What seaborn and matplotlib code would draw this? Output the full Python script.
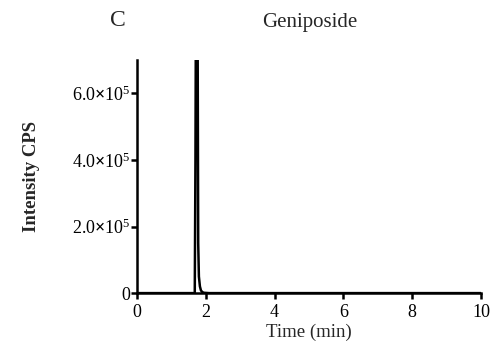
import matplotlib
matplotlib.use("Agg")
import matplotlib.pyplot as plt
import seaborn as sns
import pandas as pd
from matplotlib.ticker import FuncFormatter

# Data
time_min = [0.0, 1.50, 1.68, 1.70, 1.72, 1.74, 1.76, 1.78, 1.80, 1.83, 1.86, 1.90, 1.95, 2.10, 4.0, 6.0, 8.0, 10.0]
intensity = [0, 0, 0, 4.0e5, 1.1e6, 1.3e6, 9.0e5, 1.5e5, 5.0e4, 2.0e4, 8.0e3, 3.0e3, 1.0e3, 0, 0, 0, 0, 0]
xticks = [0, 2, 4, 6, 8, 10]
yticks = [0, 2.0e5, 4.0e5, 6.0e5]
title_text = "Geniposide"
panel_label = "C"
xlabel_text = "Time (min)"
ylabel_text = "Intensity CPS"

sns.set_style("ticks")
plt.rcParams["font.family"] = ["Liberation Serif", "DejaVu Serif"]
plt.rcParams["mathtext.fontset"] = "custom"
plt.rcParams["mathtext.rm"] = "Liberation Serif"
plt.rcParams["mathtext.bf"] = "Liberation Serif:bold"
plt.rcParams["mathtext.it"] = "Liberation Serif:italic"

df = pd.DataFrame({"time": time_min, "intensity": intensity})

fig = plt.figure(figsize=(4.98, 3.54), dpi=100)
ax = fig.add_axes([0.275, 0.172, 0.691, 0.658])
sns.lineplot(data=df, x="time", y="intensity", ax=ax, color="black", linewidth=1.8)

ax.set_xlim(0, 10)
ax.set_ylim(0, 7.0e5)
ax.set_xticks(xticks)
ax.set_yticks(yticks)

def yfmt(v, pos):
    if v == 0:
        return "0"
    m = v / 1e5
    return r"$\mathrm{%.1f}\mathbf{\times}\mathrm{10}^{\mathrm{5}}$" % m

ax.yaxis.set_major_formatter(FuncFormatter(yfmt))
ax.tick_params(axis="both", direction="out", length=4, width=1.8, labelsize=13, colors="black")
ax.tick_params(axis="y", pad=0.8)
ax.tick_params(axis="x", pad=4)
for s in ["left", "bottom"]:
    ax.spines[s].set_linewidth(1.8)
    ax.spines[s].set_color("black")
for s in ["top", "right"]:
    ax.spines[s].set_visible(False)

ax.set_xlabel(xlabel_text, fontsize=13.5, labelpad=2)
ax.set_ylabel(ylabel_text, fontsize=13.5, fontweight="bold")
ax.yaxis.set_label_coords(-0.282, 0.5)
fig.text(310 / 498, 1 - 23 / 354, title_text, ha="center", va="center", fontsize=15)
fig.text(118 / 498, 1 - 21 / 354, panel_label, ha="center", va="center", fontsize=17)

fig.savefig("out.png", dpi=100)
